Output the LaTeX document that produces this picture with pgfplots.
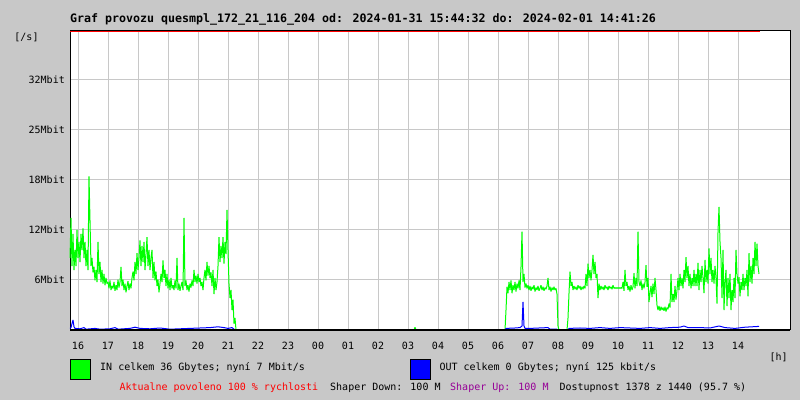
\documentclass[border=0pt]{standalone}
\usepackage{pgfplots}
\pgfplotsset{compat=1.18}
\usepackage{pgfplotstable}
\usepackage{fontspec}
\newfontfamily\mono{DejaVu Sans Mono}
\newcommand\smallmono{\mono\fontsize{10bp}{12bp}\selectfont}
\newcommand\titlemono{\mono\bfseries\fontsize{11.63bp}{14bp}\selectfont}
\definecolor{bg}{RGB}{200,200,200}
\definecolor{gridc}{RGB}{200,200,200}
\definecolor{ingreen}{RGB}{0,255,0}
\definecolor{outblue}{RGB}{0,0,255}
\definecolor{shaperup}{RGB}{150,0,150}

% x: minutes since 16:00, y: Mbit/s
\pgfplotstableread{
t v
-16 9
-14 14
-12 8
-10 12
-8 7.5
-6 10
-4 8
-2 12.5
0 9
2 11
4 8.5
6 12
8 10
10 12.7
12 9
14 11
16 8
18 10
20 7.5
22 19.2
24 13.7
26 8
28 9
30 7.2
32 7.9
34 6.2
36 7.5
38 6
40 11
42 7
44 8.5
46 6
48 7.5
50 5.8
52 7
54 5.6
56 6.5
58 5.8
60 6
62 5.2
64 6.2
66 5
68 5.5
70 5.2
72 6
74 4.9
76 5.6
78 5
80 6.3
82 5.3
84 6
86 7.9
88 5.5
90 6.3
92 5
94 5.8
96 4.7
98 5.5
100 6.1
102 5
104 5.8
106 5.2
108 6.5
110 7.3
112 6.2
114 8.5
116 7
118 9.6
120 7.5
122 9
124 11.2
126 8
128 10.5
130 8.5
132 11
134 7.5
136 9.5
138 11.6
140 8
142 10
144 7.5
146 9
148 10
150 6.5
152 8.5
154 6.2
156 7.3
158 5.5
160 6.3
162 4.7
164 5.8
166 7
168 6
170 8.7
172 6.5
174 7.5
176 5.5
178 7
180 5.2
182 6.3
184 5
186 6.5
188 5.2
190 5.6
192 5
194 6.2
196 5.2
198 9
200 5
202 5.8
204 4.9
206 5.5
208 6
210 5
212 14
214 5.5
216 6.2
218 5
220 5.6
222 4.8
224 5.8
226 5.3
228 6.2
230 5.5
232 7.5
234 6
236 6.8
238 5.8
240 7
242 6
244 6.5
246 5.5
248 6
250 5
252 6.5
254 7.5
256 6.2
258 8.5
260 6.8
262 8
264 6.5
266 7.2
268 5.5
270 7.5
272 4.5
274 6.5
276 5
278 6
280 8
282 11.6
284 8.5
286 10.5
288 9
290 11.6
292 8.3
294 11
296 9.5
298 15
300 10
302 5.8
304 4
306 5
308 2.5
310 3.8
312 0.8
314 1.5
316 0
672 0
674 0.35
676 0
854 0
856 2.5
858 5.4
860 4.6
862 6
864 5
866 6.2
868 4.6
870 5.6
872 5
874 6
876 4.8
878 5.8
880 5.2
882 6.2
884 5
886 7.9
888 12.3
890 6
892 7
894 5.3
896 5.8
898 5.2
900 5.6
902 5
904 5.5
906 4.9
908 5.4
910 5.1
912 5.6
914 4.8
916 5.3
918 5
920 5.5
922 4.9
924 5.2
926 5.6
928 5
930 5.4
932 4.9
934 5.3
936 5.1
938 5.5
940 6.5
942 5
944 5.4
946 4.8
948 5.3
950 5
952 5.4
954 5
956 5.2
958 4.5
960 0.5
962 0
978 0
980 1.5
982 4.6
984 7.3
986 5.5
988 6
990 5
992 5.5
994 5.1
996 5.4
998 5
1000 5.6
1002 5.2
1004 5.5
1006 5
1008 5.4
1010 5.1
1012 5.5
1014 5.2
1016 7
1018 5.5
1020 8.3
1022 6.5
1024 7.5
1026 6.2
1028 7.5
1030 9.4
1032 7
1034 8.5
1036 6.5
1038 7
1040 4
1042 5.8
1044 5
1046 5.5
1048 5.1
1050 5.4
1052 5
1054 5.6
1056 5.2
1058 5.4
1060 5
1062 5.5
1064 5.2
1066 5.4
1068 5.1
1070 5.6
1072 5.2
1074 5.3
1076 5.2
1078 5.3
1080 5.2
1082 5.3
1084 5.2
1086 5.3
1088 5.2
1090 6
1092 4.9
1094 7.5
1096 5.5
1098 6
1100 5
1102 5.5
1104 4.8
1106 5.6
1108 5
1110 5.4
1112 7.1
1114 5.2
1116 6.5
1118 5.5
1120 12.3
1122 6
1124 5.5
1126 6.2
1128 5
1130 5.8
1132 5.2
1134 6
1136 8.1
1138 5.4
1140 6.5
1142 3.5
1144 4.6
1146 5.5
1148 4.1
1150 5.8
1152 4.5
1154 6.5
1156 5
1158 3.1
1160 2.5
1162 3
1164 2.4
1166 2.9
1168 2.5
1170 2.8
1172 2.4
1174 2.9
1176 2.3
1178 2.8
1180 2.6
1182 3.3
1184 2.8
1186 7
1188 3.5
1190 4.5
1192 3.5
1194 5.5
1196 3.8
1198 5
1200 6.5
1202 5
1204 7
1206 5.5
1208 6.5
1210 5.2
1212 7.5
1214 6
1216 9.1
1218 6.5
1220 8
1222 5.5
1224 7
1226 5.2
1228 6.5
1230 5.5
1232 7.5
1234 5.5
1236 7
1238 5.5
1240 8.4
1242 5
1244 7.5
1246 6
1248 8
1250 6.5
1252 4.6
1254 8.75
1256 6
1258 7.5
1260 5.8
1262 10.2
1264 7
1266 9
1268 6
1270 7.5
1272 5.8
1274 8
1276 6.5
1278 3.3
1280 12.25
1282 15.4
1284 11
1286 9
1288 4
1290 10
1292 2.5
1294 6
1296 7.5
1298 3
1300 6.5
1302 4
1304 7
1306 2.5
1308 5
1310 3.5
1312 6.5
1314 4
1316 10
1318 7
1320 5.8
1322 6.6
1324 4.2
1326 6
1328 5
1330 7
1332 5
1334 6.5
1336 5.5
1338 7.5
1340 4.2
1342 9.6
1344 6
1346 8
1348 5.8
1350 9
1352 7
1354 11
1356 8
1358 10.8
1360 8
1362 7
}\traffin

\pgfplotstableread{
t v
-16 0.2
-14 0.3
-12 0.8
-10 1.25
-8 0.4
-6 0.2
4 0.15
12 0.3
16 0.1
34 0.2
44 0.1
64 0.15
74 0.3
80 0.1
104 0.2
114 0.35
124 0.2
144 0.15
164 0.25
184 0.1
204 0.15
224 0.2
244 0.25
264 0.3
280 0.4
292 0.3
300 0.2
308 0.3
312 0.1
316 0
854 0
856 0.2
874 0.25
884 0.3
888 0.5
890 3.5
892 0.5
894 0.2
904 0.2
940 0.3
944 0.1
958 0.1
960 0
980 0
982 0.2
1004 0.25
1024 0.2
1044 0.3
1064 0.2
1084 0.3
1104 0.25
1124 0.2
1144 0.3
1164 0.2
1184 0.3
1204 0.35
1212 0.5
1220 0.3
1244 0.3
1264 0.25
1282 0.5
1294 0.3
1314 0.2
1334 0.35
1348 0.4
1362 0.45
}\traffout

\begin{document}
\begin{tikzpicture}
\useasboundingbox (0,0) rectangle (800bp,400bp);
\fill[bg] (0,0) rectangle (800bp,400bp);
\begin{axis}[
    at={(70bp,70bp)}, anchor=south west,
    scale only axis,
    width=720bp, height=299bp,
    xmin=-16, xmax=1424,
    ymin=0, ymax=37.375,
    clip=false,
    axis background/.style={fill=white},
    axis line style={black, line width=1bp},
    major tick length=0pt,
    xtick={0,60,...,1320},
    xticklabels={16,17,18,19,20,21,22,23,00,01,02,03,04,05,06,07,08,09,10,11,12,13,14},
    ytick={6.25,12.5,18.75,25,31.25},
    yticklabels={6Mbit,12Mbit,18Mbit,25Mbit,32Mbit},
    xticklabel style={font=\smallmono, anchor=base, inner sep=0pt, yshift=-20bp},
    yticklabel style={font=\smallmono, anchor=east, inner sep=0pt, xshift=-5bp},
    xmajorgrids, ymajorgrids,
    grid style={gridc, line width=1bp},
  ]
  \addplot[red, line width=1bp] coordinates {(-16,37.25) (1364,37.25)};
  \addplot[ingreen, line width=1bp, line join=bevel] table[x=t, y=v] {\traffin};
  \addplot[outblue, line width=1bp, line join=bevel] table[x=t, y=v] {\traffout};
  \draw[black, line width=1.2bp] (rel axis cs:0,0) -- (rel axis cs:1,0);
\end{axis}

\node[font=\titlemono, anchor=base west, inner sep=0pt] at (70bp,377bp)
  {Graf provozu quesmpl\_172\_21\_116\_204 od: 2024-01-31 15:44:32 do: 2024-02-01 14:41:26};
\node[font=\smallmono, inner sep=0pt] at (26.5bp,363bp) {[/s]};
\node[font=\smallmono, inner sep=0pt] at (778.7bp,43bp) {[h]};

\filldraw[fill=ingreen, draw=black, line width=1bp] (70.5bp,20bp) rectangle (90.5bp,40bp);
\filldraw[fill=outblue, draw=black, line width=1bp] (410.5bp,20bp) rectangle (430.5bp,40bp);
\node[font=\smallmono, anchor=base west, inner sep=0pt] at (100bp,29.5bp)
  {IN celkem 36 Gbytes; nyní 7 Mbit/s};
\node[font=\smallmono, anchor=base west, inner sep=0pt] at (439.3bp,29.5bp)
  {OUT celkem 0 Gbytes; nyní 125 kbit/s};

\node[font=\smallmono, anchor=base west, inner sep=0pt, text=red] at (119.3bp,9.5bp)
  {Aktualne povoleno 100 \% rychlosti};
\node[font=\smallmono, anchor=base west, inner sep=0pt] at (330bp,9.5bp)
  {Shaper Down: 100 M};
\node[font=\smallmono, anchor=base west, inner sep=0pt, text=shaperup] at (450bp,9.5bp)
  {Shaper Up: 100 M};
\node[font=\smallmono, anchor=base west, inner sep=0pt] at (559.3bp,9.5bp)
  {Dostupnost 1378 z 1440 (95.7 \%)};
\end{tikzpicture}
\end{document}
